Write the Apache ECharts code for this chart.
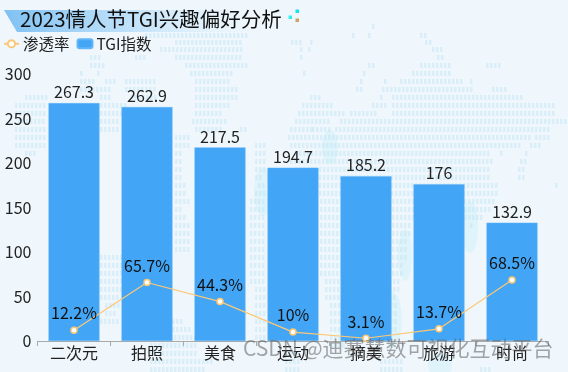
<!DOCTYPE html>
<html><head><meta charset="utf-8">
<style>html,body{margin:0;padding:0;background:#eff7fc}#c{width:568px;height:372px}</style>
<script src="https://cdn.jsdelivr.net/npm/echarts@6/dist/echarts.min.js"></script>
</head><body><div id="c"></div>
<script>
const categories = ['二次元','拍照','美食','运动','摘美','旅游','时尚'];
const tgiValues = [267.3,262.9,217.5,194.7,185.2,176,132.9];
const penetration = [12.2,65.7,44.3,10,3.1,13.7,68.5];
const titleText = '2023情人节TGI兴趣偏好分析';
const watermark = 'CSDN @迪赛慧数可视化互动平台';
// decorative dotted map: [rowY, x1, x2, x1, x2, ...]
const mapRows = [
 [24,372,372],[33,145,245,352,352,368,368,420,425],[40,175,240,291,300,310,310,425,430],
 [47,160,240,300,300,308,308,432,440],[55,90,100,135,145,175,240,300,300,437,442],
 [63,90,105,185,245,368,372,420,450,486,498],[71,80,80,97,97,190,230,303,303,363,363,412,450],
 [79,80,95,105,115,125,155,195,230,360,360,384,384,400,462,470,473],
 [87,80,110,125,155,195,235,356,360,382,470,492,505],
 [95,25,45,100,110,130,155,195,235,310,320,380,380,392,520],
 [103,15,45,100,125,195,230,302,330,372,385,392,555],
 [111,15,45,100,120,195,220,298,338,342,342,350,375,392,555],
 [119,18,42,100,118,192,225,295,330,340,565],[127,15,45,100,118,195,220,240,245,290,310,312,330,335,550],
 [135,15,45,175,190,288,305,308,530,535,550],[143,15,45,175,190,255,265,290,520,530,540],
 [151,25,35,175,182,255,265,295,490,500,500,525,525],[159,175,180,255,265,290,490,520,525],
 [167,175,180,255,265,295,490,518,525],[175,175,180,255,262,295,490,518,522],
 [183,175,185,258,262,295,495,555,555],[191,175,185,255,265,295,495],
 [199,175,190,250,265,320,495],[207,175,180,250,265,320,490],[215,175,185,250,265,320,480],
 [223,175,190,250,265,320,410,470,470],[231,175,190,250,265,320,410],[239,175,190,250,265,320,405],
 [247,175,190,250,265,320,405],[255,100,120,250,265,320,405],[263,100,120,250,265,320,400],
 [271,100,120,250,265,320,400],[279,100,120,250,265,325,400],[287,100,120,255,265,325,400],
 [295,100,118,255,265,325,395],[303,105,118,255,265,330,395],[311,105,115,255,265,330,395],
 [319,100,118,172,180,255,265,330,395],[327,172,190,255,265,330,395],[335,150,195,255,265,330,350],
 [343,150,195,330,345],[351,150,195,285,300],[359,150,210,285,300,380,400],[367,150,205,285,300,380,400,480,490]
];
const mapDots = [];
mapRows.forEach(r => { for (let i = 1; i < r.length; i += 2) for (let x = r[i]; x <= r[i+1]; x += 4)
  mapDots.push({type:'rect',silent:true,z:-10,shape:{x:x,y:r[0],width:2.5,height:5},style:{fill:'rgba(178,220,244,0.34)'}}); });
const blobs = [[330,147,8,17],[263,192,9,24],[470,227,8,26],[405,255,7,26],[392,320,10,28],[445,272,5,20],[440,365,12,12]];
const blobEls = blobs.map(b => ({type:'ellipse',silent:true,z:-9,shape:{cx:b[0],cy:b[1],rx:b[2],ry:b[3]},style:{fill:'rgba(180,232,245,0.28)'}}));
const sparks = [[297,11,'#14e3f5'],[290,17,'#33f0ee'],[297,20,'#c9a468']];
const sparkEls = sparks.map(s => ({type:'rect',silent:true,z:5,shape:{x:s[0]-1.5,y:s[1]-1.5,width:3.5,height:3.5},style:{fill:s[2]}}));
const chart = echarts.init(document.getElementById('c'),null,{renderer:'canvas'});
const font = '"Noto Sans CJK SC","Noto Sans",sans-serif';
chart.setOption({
  animation:false,
  backgroundColor:'#eff7fc',
  textStyle:{fontFamily:font},
  title:{text:titleText,left:20,top:9,itemGap:0,padding:0,textStyle:{fontSize:20.5,fontWeight:'normal',color:'#111',fontFamily:font}},
  legend:{left:3,top:36,padding:0,itemWidth:15,itemHeight:9,itemGap:7,data:['渗透率','TGI指数'],textStyle:{fontSize:15.5,color:'#222',padding:[0,0,0,-1]}},
  grid:{left:37.5,right:19.5,top:74,bottom:31,containLabel:false},
  xAxis:{type:'category',data:categories,axisTick:{show:true,alignWithLabel:false,lineStyle:{color:'#aaa'}},
    axisLine:{lineStyle:{color:'#aaa'}},axisLabel:{fontSize:16,color:'#222',margin:4,interval:0}},
  yAxis:{type:'value',min:0,max:300,interval:50,axisLine:{show:false},axisTick:{show:false},splitLine:{show:false},
    axisLabel:{fontSize:16,color:'#222',margin:6}},
  series:[
    {name:'TGI指数',type:'bar',data:tgiValues,barWidth:51,itemStyle:{color:'#42a5f5',borderColor:'#64b5f6',borderWidth:0.5},
     label:{show:true,position:'top',distance:3,fontSize:16,color:'#222'}},
    {name:'渗透率',type:'line',data:penetration,symbol:'circle',symbolSize:6,z:3,
     lineStyle:{color:'#fbc877',width:1.2},itemStyle:{color:'#fff',borderColor:'#fbc877',borderWidth:1.5},
     label:{show:true,position:'top',distance:5,fontSize:16,color:'#111',formatter:p=>p.value+'%'}}
  ],
  graphic:[
    ...mapDots,...blobEls,
    {type:'polygon',silent:true,z:-5,shape:{points:[[4,10],[245,10],[252,32],[17,32]]},
     style:{fill:{type:'linear',x:0,y:0,x2:1,y2:0,colorStops:[{offset:0,color:'rgba(90,175,240,0.75)'},{offset:0.5,color:'rgba(170,215,248,0.7)'},{offset:1,color:'rgba(220,240,252,0.1)'}]}}},
    ...sparkEls,
    {type:'text',silent:true,z:100,left:243,top:338,style:{text:watermark,font:'21px "Noto Sans CJK SC",sans-serif',fill:'rgba(95,95,95,0.55)'}}
  ]
});
</script></body></html>
